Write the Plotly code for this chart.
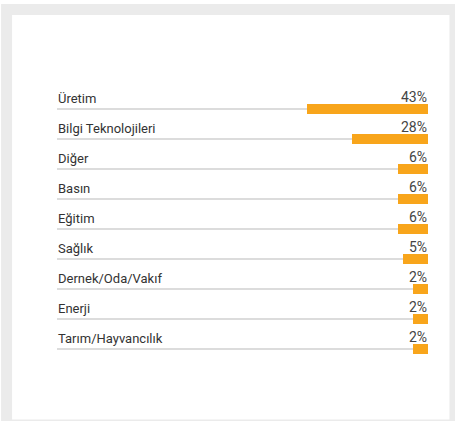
import plotly.graph_objects as go

# ---- data ----
categories = ["Üretim", "Bilgi Teknolojileri", "Diğer", "Basın", "Eğitim",
              "Sağlık", "Dernek/Oda/Vakıf", "Enerji", "Tarım/Hayvancılık"]
share_labels = ["43%", "28%", "6%", "6%", "6%", "5%", "2%", "2%", "2%"]
# bar lengths as drawn in the picture (same scale as the 43% bar)
bar_lengths = [43, 27, 10.7, 10.7, 10.7, 8.9, 5.3, 5.3, 5.3]

W, H = 455, 421
L, R, T, B = 57, 26.5, 94, 57
PW, PH = W - L - R, H - T - B

def px(x):
    return (x - L) / PW

def py(y):
    return (H - B - y) / PH

fig = go.Figure()
fig.add_trace(go.Bar(
    y=categories, x=bar_lengths, orientation="h",
    marker=dict(color="#f8a51b", line=dict(width=0)),
    width=0.36, hoverinfo="skip",
))

annotations = []
for c, s in zip(categories, share_labels):
    annotations.append(dict(
        x=0, xref="paper", y=c, yref="y", xanchor="left", yanchor="bottom",
        text=c, showarrow=False, xshift=-1, yshift=1,
        font=dict(family="Roboto", size=13, color="#333333"),
    ))
    annotations.append(dict(
        x=1, xref="paper", y=c, yref="y", xanchor="right", yanchor="bottom",
        text=s, showarrow=False, xshift=1, yshift=2,
        font=dict(family="Roboto", size=14, color="#444444"),
    ))

shapes = [
    dict(type="rect", xref="paper", yref="paper", layer="below",
         x0=px(1), x1=px(456), y0=py(4), y1=py(422),
         fillcolor="#ebebeb", line=dict(width=0)),
    dict(type="rect", xref="paper", yref="paper", layer="below",
         x0=px(12), x1=px(450), y0=py(15), y1=py(419.5),
         fillcolor="#ffffff", line=dict(width=0)),
]

fig.update_layout(
    width=W, height=H,
    margin=dict(l=L, r=R, t=T, b=B, pad=0),
    paper_bgcolor="#ffffff", plot_bgcolor="rgba(0,0,0,0)",
    showlegend=False, bargap=0,
    annotations=annotations, shapes=shapes,
    xaxis=dict(range=[PW * 43 / 121, 0], showgrid=False, zeroline=False,
               showticklabels=False, fixedrange=True),
    yaxis=dict(categoryorder="array", categoryarray=categories,
               range=[len(categories) - 0.5, -0.5],
               showgrid=True, gridcolor="#dcdcdc", gridwidth=1.5,
               zeroline=False, showticklabels=False, fixedrange=True),
)

fig.write_html("out.html", config={"displayModeBar": False},
               post_script="document.body.style.margin='0';document.body.style.overflow='hidden';")
